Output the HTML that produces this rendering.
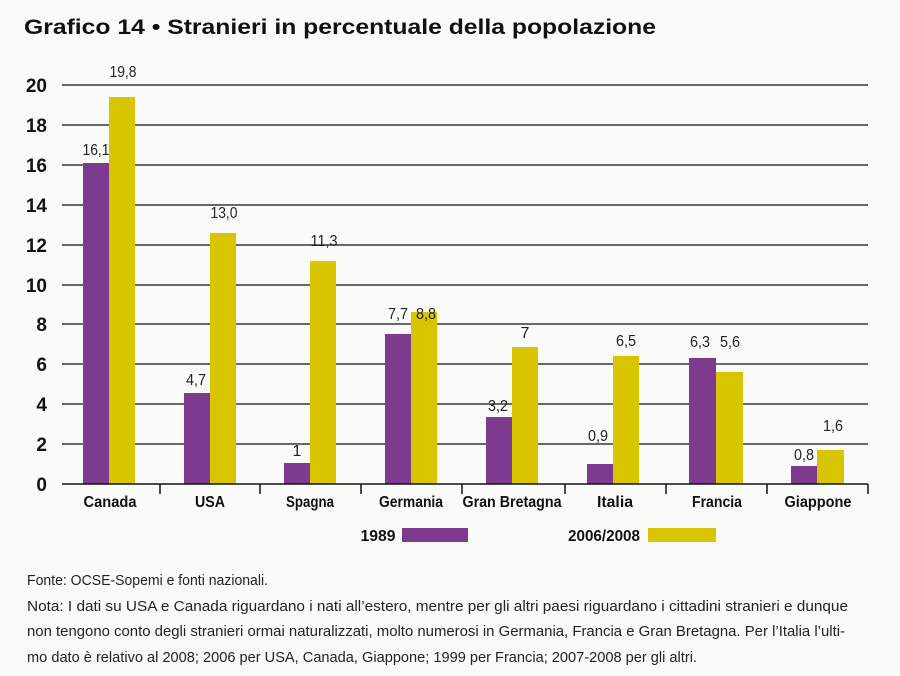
<!DOCTYPE html>
<html><head><meta charset="utf-8"><style>
html,body{margin:0;padding:0;background:#fafaf8;}
svg{display:block}
</style></head><body>
<svg width="900" height="676" xmlns="http://www.w3.org/2000/svg">
<rect width="900" height="676" fill="#fafaf8"/>
<text x="24" y="34" font-family="Liberation Sans, sans-serif" font-weight="bold" font-size="21" fill="#111" textLength="632" lengthAdjust="spacingAndGlyphs">Grafico 14 • Stranieri in percentuale della popolazione</text>
<g stroke="#111" stroke-width="1.3">
<line x1="62" y1="85" x2="868" y2="85"/><line x1="62" y1="125" x2="868" y2="125"/>
<line x1="62" y1="165" x2="868" y2="165"/><line x1="62" y1="205" x2="868" y2="205"/>
<line x1="62" y1="245" x2="868" y2="245"/><line x1="62" y1="285" x2="868" y2="285"/>
<line x1="62" y1="324" x2="868" y2="324"/><line x1="62" y1="364" x2="868" y2="364"/>
<line x1="62" y1="404" x2="868" y2="404"/><line x1="62" y1="444" x2="868" y2="444"/>
</g>
<g font-family="Liberation Sans, sans-serif" font-weight="bold" font-size="19" fill="#111" text-anchor="end">
<text x="47" y="92">20</text><text x="47" y="132">18</text><text x="47" y="172">16</text><text x="47" y="212">14</text><text x="47" y="252">12</text><text x="47" y="292">10</text><text x="47" y="331">8</text><text x="47" y="371">6</text><text x="47" y="411">4</text><text x="47" y="451">2</text><text x="47" y="491">0</text>
</g>
<g fill="#7e3a8e">
<rect x="83" y="163" width="26" height="321"/><rect x="184" y="393" width="26" height="91"/>
<rect x="284" y="463" width="26" height="21"/><rect x="385" y="334" width="26" height="150"/>
<rect x="486" y="417" width="26" height="67"/><rect x="587" y="464" width="26" height="20"/>
<rect x="689" y="358" width="27" height="126"/><rect x="791" y="466" width="26" height="18"/>
</g>
<g fill="#d9c400">
<rect x="109" y="97" width="26" height="387"/><rect x="210" y="233" width="26" height="251"/>
<rect x="310" y="261" width="26" height="223"/><rect x="411" y="312" width="26" height="172"/>
<rect x="512" y="347" width="26" height="137"/><rect x="613" y="356" width="26" height="128"/>
<rect x="716" y="372" width="27" height="112"/><rect x="817" y="450" width="27" height="34"/>
</g>
<g stroke="#111" stroke-width="1.5">
<line x1="62" y1="484" x2="868" y2="484"/>
<line x1="160" y1="484" x2="160" y2="494"/><line x1="260" y1="484" x2="260" y2="494"/>
<line x1="361" y1="484" x2="361" y2="494"/><line x1="462" y1="484" x2="462" y2="494"/>
<line x1="565" y1="484" x2="565" y2="494"/><line x1="666" y1="484" x2="666" y2="494"/>
<line x1="767" y1="484" x2="767" y2="494"/><line x1="868" y1="484" x2="868" y2="494"/>
</g>
<g font-family="Liberation Sans, sans-serif" font-size="16" fill="#222" text-anchor="middle" lengthAdjust="spacingAndGlyphs">
<text x="96" y="155" textLength="27" lengthAdjust="spacingAndGlyphs">16,1</text><text x="123" y="77" textLength="27" lengthAdjust="spacingAndGlyphs">19,8</text>
<text x="196" y="385" textLength="20" lengthAdjust="spacingAndGlyphs">4,7</text><text x="224" y="218" textLength="27" lengthAdjust="spacingAndGlyphs">13,0</text>
<text x="297" y="456">1</text><text x="324" y="246" textLength="27" lengthAdjust="spacingAndGlyphs">11,3</text>
<text x="398" y="319" textLength="20" lengthAdjust="spacingAndGlyphs">7,7</text><text x="426" y="319" textLength="20" lengthAdjust="spacingAndGlyphs">8,8</text>
<text x="498" y="411" textLength="20" lengthAdjust="spacingAndGlyphs">3,2</text><text x="525" y="338">7</text>
<text x="598" y="441" textLength="20" lengthAdjust="spacingAndGlyphs">0,9</text><text x="626" y="346" textLength="20" lengthAdjust="spacingAndGlyphs">6,5</text>
<text x="700" y="347" textLength="20" lengthAdjust="spacingAndGlyphs">6,3</text><text x="730" y="347" textLength="20" lengthAdjust="spacingAndGlyphs">5,6</text>
<text x="804" y="460" textLength="20" lengthAdjust="spacingAndGlyphs">0,8</text><text x="833" y="431" textLength="20" lengthAdjust="spacingAndGlyphs">1,6</text>
</g>
<g font-family="Liberation Sans, sans-serif" font-weight="bold" font-size="16" fill="#111" text-anchor="middle">
<text x="110" y="507" textLength="53" lengthAdjust="spacingAndGlyphs">Canada</text>
<text x="210" y="507" textLength="30" lengthAdjust="spacingAndGlyphs">USA</text>
<text x="310" y="507" textLength="48" lengthAdjust="spacingAndGlyphs">Spagna</text>
<text x="411" y="507" textLength="64" lengthAdjust="spacingAndGlyphs">Germania</text>
<text x="512" y="507" textLength="99" lengthAdjust="spacingAndGlyphs">Gran Bretagna</text>
<text x="615" y="507" textLength="36" lengthAdjust="spacingAndGlyphs">Italia</text>
<text x="717" y="507" textLength="50" lengthAdjust="spacingAndGlyphs">Francia</text>
<text x="818" y="507" textLength="67" lengthAdjust="spacingAndGlyphs">Giappone</text>
<text x="378" y="541" textLength="35" lengthAdjust="spacingAndGlyphs">1989</text>
<text x="604" y="541" textLength="72" lengthAdjust="spacingAndGlyphs">2006/2008</text>
</g>
<rect x="402" y="528" width="66" height="14" fill="#7e3a8e"/>
<rect x="648" y="528" width="68" height="14" fill="#d9c400"/>
<g font-family="Liberation Sans, sans-serif" font-size="15" fill="#222">
<text x="27" y="585" textLength="241" lengthAdjust="spacingAndGlyphs">Fonte: OCSE-Sopemi e fonti nazionali.</text>
<text x="27" y="611" textLength="821" lengthAdjust="spacingAndGlyphs">Nota: I dati su USA e Canada riguardano i nati all’estero, mentre per gli altri paesi riguardano i cittadini stranieri e dunque</text>
<text x="27" y="636" textLength="818" lengthAdjust="spacingAndGlyphs">non tengono conto degli stranieri ormai naturalizzati, molto numerosi in Germania, Francia e Gran Bretagna. Per l’Italia l’ulti-</text>
<text x="27" y="662" textLength="670" lengthAdjust="spacingAndGlyphs">mo dato è relativo al 2008; 2006 per USA, Canada, Giappone; 1999 per Francia; 2007-2008 per gli altri.</text>
</g>
</svg>
</body></html>
